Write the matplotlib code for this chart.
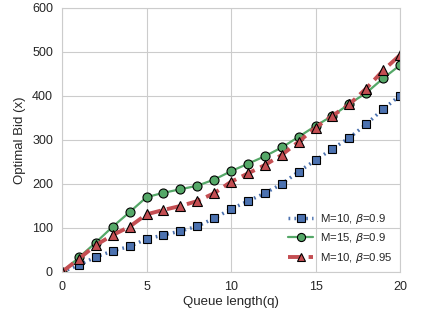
import matplotlib
matplotlib.use('Agg')
import matplotlib.pyplot as plt
import seaborn as sns

q = list(range(0, 21))
m10_b09 = [0, 16, 34, 48, 58, 75, 84, 93, 104, 122, 143,
           161, 179, 200, 228, 254, 280, 305, 336, 370, 401]
m15_b09 = [0, 33, 67, 103, 136, 170, 180, 188, 196, 210, 229,
           246, 263, 283, 307, 332, 355, 382, 407, 440, 470]
m10_b095 = [0, 30, 61, 84, 103, 131, 141, 150, 161, 179, 205,
            224, 243, 266, 296, 328, 355, 381, 417, 458, 493]

sns.set_style('whitegrid')
plt.rcParams['font.family'] = ['Liberation Sans', 'DejaVu Sans']
pal = sns.color_palette('deep')

fig = plt.figure(figsize=(4.22, 3.16), dpi=100)
ax = fig.add_axes([62 / 422, 44 / 316, 338 / 422, 264 / 316])

ax.plot(q, m10_b09, ls=(0, (0.5, 1.2)), lw=2.5, color=pal[0], marker='s',
        ms=6.2, mec='black', mew=0.8, label=r'M=10, $\beta$=0.9')
ax.plot(q, m15_b09, ls='-', lw=1.6, color=pal[2], marker='o', ms=6.5,
        mec='black', mew=0.8, label=r'M=15, $\beta$=0.9')
ax.plot(q, m10_b095, ls='--', lw=2.8, color=pal[3], marker='^', ms=6.5,
        mec='black', mew=0.8, label=r'M=10, $\beta$=0.95')

ax.set_xlim(0, 20)
ax.set_ylim(0, 600)
ax.set_xticks([0, 5, 10, 15, 20])
ax.set_yticks(range(0, 601, 100))
ax.tick_params(labelsize=9, pad=3)
ax.set_xlabel('Queue length(q)', fontsize=9.5, labelpad=2)
ax.set_ylabel('Optimal Bid (x)', fontsize=9.5, labelpad=4)
ax.legend(loc='lower right', bbox_to_anchor=(1.0, 0.0), fontsize=8.2,
          frameon=False, handlelength=2.2, borderaxespad=0.25,
          labelspacing=0.45, handletextpad=0.6, markerscale=0.9)

fig.savefig('out.png', dpi=100)
